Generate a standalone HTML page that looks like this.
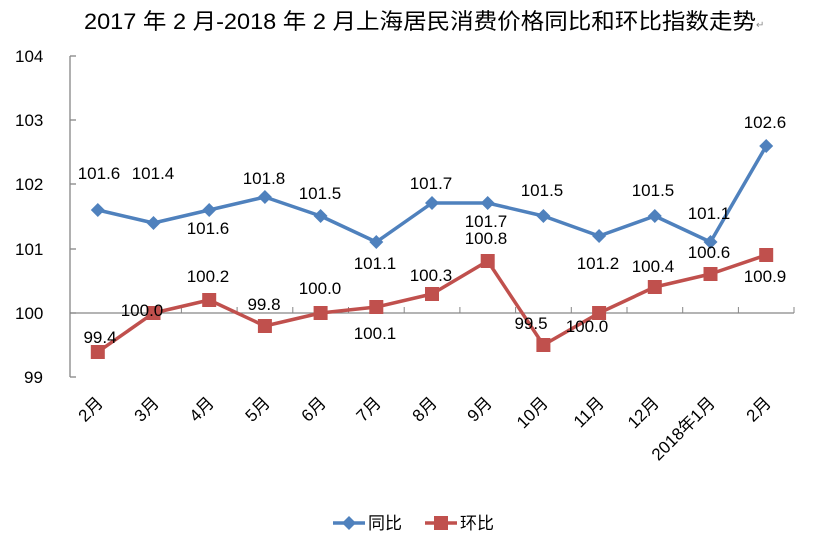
<!DOCTYPE html>
<html><head><meta charset="utf-8"><style>body{margin:0;background:#fff}svg{display:block}</style></head><body>
<svg width="834" height="539" xmlns="http://www.w3.org/2000/svg" font-family="Liberation Sans, Noto Sans CJK SC, sans-serif">
<text x="84" y="29" font-size="22" textLength="672" lengthAdjust="spacingAndGlyphs" font-family="Liberation Sans Narrow, Liberation Sans, Noto Sans CJK SC, sans-serif">2017 年 2 月-2018 年 2 月上海居民消费价格同比和环比指数走势</text>
<text x="756" y="28" font-size="10" fill="#888">↵</text>
<g stroke="#868686" stroke-width="1.3" fill="none">
<line x1="70" y1="56" x2="70" y2="377"/>
<line x1="70" y1="56" x2="76" y2="56"/><line x1="70" y1="120" x2="76" y2="120"/><line x1="70" y1="184" x2="76" y2="184"/><line x1="70" y1="249" x2="76" y2="249"/><line x1="70" y1="313" x2="76" y2="313"/><line x1="70" y1="377" x2="76" y2="377"/>
<line x1="70" y1="313" x2="794" y2="313"/>
</g>
<g stroke="#868686" stroke-width="1">
<line x1="125.7" y1="307" x2="125.7" y2="313"/><line x1="181.4" y1="307" x2="181.4" y2="313"/><line x1="237.1" y1="307" x2="237.1" y2="313"/><line x1="292.8" y1="307" x2="292.8" y2="313"/><line x1="348.5" y1="307" x2="348.5" y2="313"/><line x1="404.2" y1="307" x2="404.2" y2="313"/><line x1="459.9" y1="307" x2="459.9" y2="313"/><line x1="515.6" y1="307" x2="515.6" y2="313"/><line x1="571.3" y1="307" x2="571.3" y2="313"/><line x1="627" y1="307" x2="627" y2="313"/><line x1="682.7" y1="307" x2="682.7" y2="313"/><line x1="738.4" y1="307" x2="738.4" y2="313"/><line x1="794" y1="307" x2="794" y2="313"/>
</g>
<g font-size="17" fill="#000">
<text x="15" y="62">104</text><text x="15" y="126">103</text><text x="15" y="190">102</text><text x="15" y="255">101</text><text x="15" y="319">100</text><text x="24" y="383">99</text>
</g>
<g font-size="17" text-anchor="end">
<text transform="translate(104,404) rotate(-45)">2月</text>
<text transform="translate(160,404) rotate(-45)">3月</text>
<text transform="translate(215,404) rotate(-45)">4月</text>
<text transform="translate(271,404) rotate(-45)">5月</text>
<text transform="translate(327,404) rotate(-45)">6月</text>
<text transform="translate(382,404) rotate(-45)">7月</text>
<text transform="translate(438,404) rotate(-45)">8月</text>
<text transform="translate(493,404) rotate(-45)">9月</text>
<text transform="translate(549,404) rotate(-45)">10月</text>
<text transform="translate(605,404) rotate(-45)">11月</text>
<text transform="translate(660,404) rotate(-45)">12月</text>
<text transform="translate(716,404) rotate(-45)">2018年1月</text>
<text transform="translate(772,404) rotate(-45)">2月</text>
</g>
<polyline fill="none" stroke="#4F81BD" stroke-width="3.5" stroke-linejoin="round" points="97.8,210 153.5,223 209.2,210 264.9,197 320.6,216 376.3,242 432,203 487.7,203 543.4,216 599.1,236 654.8,216 710.5,242 766.2,146"/>
<g fill="#4F81BD">
<path d="M97.8,203l7,7-7,7-7-7z"/><path d="M153.5,216l7,7-7,7-7-7z"/><path d="M209.2,203l7,7-7,7-7-7z"/><path d="M264.9,190l7,7-7,7-7-7z"/><path d="M320.6,209l7,7-7,7-7-7z"/><path d="M376.3,235l7,7-7,7-7-7z"/><path d="M432,196l7,7-7,7-7-7z"/><path d="M487.7,196l7,7-7,7-7-7z"/><path d="M543.4,209l7,7-7,7-7-7z"/><path d="M599.1,229l7,7-7,7-7-7z"/><path d="M654.8,209l7,7-7,7-7-7z"/><path d="M710.5,235l7,7-7,7-7-7z"/><path d="M766.2,139l7,7-7,7-7-7z"/>
</g>
<polyline fill="none" stroke="#C0504D" stroke-width="3.5" stroke-linejoin="round" points="97.8,352 153.5,313 209.2,300 264.9,326 320.6,313 376.3,307 432,294 487.7,261 543.4,345 599.1,313 654.8,287 710.5,274 766.2,255"/>
<g fill="#C0504D">
<rect x="90.8" y="345" width="14" height="14"/><rect x="146.5" y="306" width="14" height="14"/><rect x="202.2" y="293" width="14" height="14"/><rect x="257.9" y="319" width="14" height="14"/><rect x="313.6" y="306" width="14" height="14"/><rect x="369.3" y="300" width="14" height="14"/><rect x="425" y="287" width="14" height="14"/><rect x="480.7" y="254" width="14" height="14"/><rect x="536.4" y="338" width="14" height="14"/><rect x="592.1" y="306" width="14" height="14"/><rect x="647.8" y="280" width="14" height="14"/><rect x="703.5" y="267" width="14" height="14"/><rect x="759.2" y="248" width="14" height="14"/>
</g>
<g font-size="17" text-anchor="middle">
<text x="99" y="179">101.6</text><text x="153" y="179">101.4</text><text x="208" y="234">101.6</text><text x="264" y="184">101.8</text><text x="320" y="199">101.5</text><text x="375" y="269">101.1</text><text x="431" y="189">101.7</text><text x="486" y="227">101.7</text><text x="542" y="196">101.5</text><text x="598" y="269">101.2</text><text x="653" y="196">101.5</text><text x="709" y="219">101.1</text><text x="765" y="128">102.6</text>
<text x="100" y="343">99.4</text><text x="142" y="316">100.0</text><text x="208" y="282">100.2</text><text x="264" y="310">99.8</text><text x="320" y="294">100.0</text><text x="375" y="339">100.1</text><text x="431" y="281">100.3</text><text x="486" y="244">100.8</text><text x="531" y="329">99.5</text><text x="587" y="332">100.0</text><text x="653" y="272">100.4</text><text x="709" y="258">100.6</text><text x="765" y="282">100.9</text>
</g>
<line x1="333" y1="523" x2="365" y2="523" stroke="#4F81BD" stroke-width="3.5"/>
<path d="M349,516l7,7-7,7-7-7z" fill="#4F81BD"/>
<text x="368" y="529" font-size="17">同比</text>
<line x1="425" y1="523" x2="457" y2="523" stroke="#C0504D" stroke-width="3.5"/>
<rect x="434" y="516" width="14" height="14" fill="#C0504D"/>
<text x="460" y="529" font-size="17">环比</text>
</svg>
</body></html>
